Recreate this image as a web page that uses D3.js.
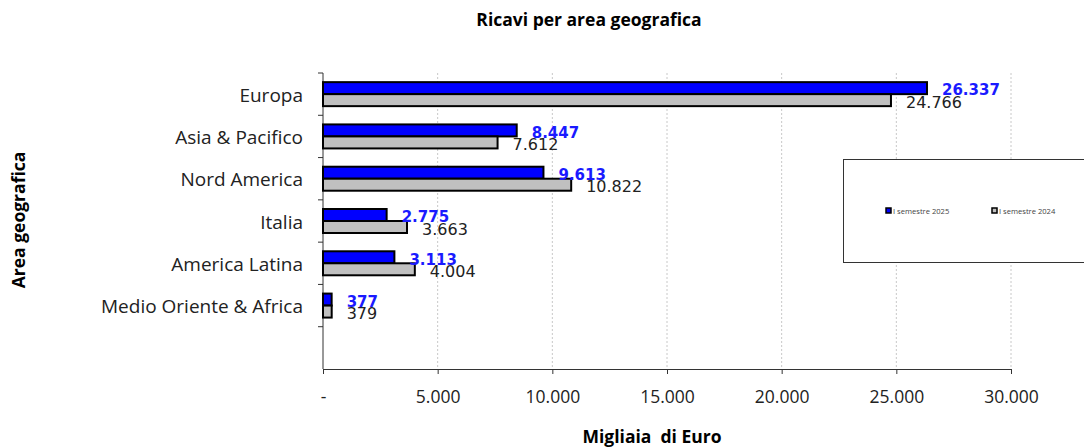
<!DOCTYPE html>
<html>
<head>
<meta charset="utf-8">
<script src="https://cdn.jsdelivr.net/npm/d3@7"></script>
<style>
  body { margin: 0; background: #fff; }
  svg { display: block; }
</style>
</head>
<body>
<div id="chart"></div>
<script>
// dati
const areas = ["Europa", "Asia & Pacifico", "Nord America", "Italia", "America Latina", "Medio Oriente & Africa", ""];
const sem2025 = [26337, 8447, 9613, 2775, 3113, 377];
const sem2024 = [24766, 7612, 10822, 3663, 4004, 379];
const xTicks = [0, 5000, 10000, 15000, 20000, 25000, 30000];
const seriesNames = ["I semestre 2025", "I semestre 2024"];

const width = 1084, height = 447;
const margin = {left: 323, right: 73, top: 73, bottom: 78};

const svg = d3.select("#chart").append("svg")
    .attr("width", width)
    .attr("height", height);

const fmt = v => v === 0 ? "-" : d3.format(",")(v).replace(/,/g, ".");

const x = d3.scaleLinear().domain([0, 30000]).range([margin.left, width - margin.right]);
const y = d3.scaleBand().domain(d3.range(areas.length)).range([margin.top, height - margin.bottom]);

// griglia
svg.append("g").selectAll("line")
    .data(xTicks.slice(1))
  .enter().append("line")
    .attr("x1", d => x(d)).attr("x2", d => x(d))
    .attr("y1", margin.top).attr("y2", height - margin.bottom)
    .attr("stroke", "#c8c8c8")
    .attr("stroke-dasharray", "2,2");

// assi
const xAxis = svg.append("g")
    .attr("transform", `translate(0,${height - margin.bottom})`)
    .call(d3.axisBottom(x).tickValues(xTicks).tickFormat(fmt).tickSizeOuter(0).tickSize(5).tickPadding(17));
xAxis.select(".domain").attr("stroke", "#333");
xAxis.selectAll(".tick line").attr("stroke", "#333");
xAxis.selectAll("text")
    .style("font-family", "'Open Sans', sans-serif")
    .style("font-size", "17.5px")
    .attr("fill", "#222");

const yAxis = svg.append("g")
    .attr("transform", `translate(${margin.left},0)`);
yAxis.append("line")
    .attr("y1", margin.top).attr("y2", height - margin.bottom)
    .attr("stroke", "#333");
yAxis.selectAll(".tk")
    .data(d3.range(areas.length))
  .enter().append("line")
    .attr("x1", -5).attr("x2", 0)
    .attr("y1", d => y(d)).attr("y2", d => y(d))
    .attr("stroke", "#333");
yAxis.selectAll(".cat")
    .data(areas)
  .enter().append("text")
    .attr("x", -20)
    .attr("y", (d, i) => y(i) + y.bandwidth() / 2 + 1)
    .attr("dy", "0.35em")
    .attr("text-anchor", "end")
    .style("font-family", "'Open Sans', sans-serif")
    .style("font-size", "19px")
    .attr("fill", "#222")
    .text(d => d);

// barre
const barH = 12;
const barTop = i => y(i) + y.bandwidth() / 2 - barH;

svg.append("g").selectAll("rect")
    .data(sem2025)
  .enter().append("rect")
    .attr("x", x(0))
    .attr("y", (d, i) => barTop(i))
    .attr("width", d => x(d) - x(0))
    .attr("height", barH)
    .attr("fill", "#0000ff")
    .attr("stroke", "#000")
    .attr("stroke-width", 2);

svg.append("g").selectAll("rect")
    .data(sem2024)
  .enter().append("rect")
    .attr("x", x(0))
    .attr("y", (d, i) => barTop(i) + barH)
    .attr("width", d => x(d) - x(0))
    .attr("height", barH)
    .attr("fill", "#c0c0c0")
    .attr("stroke", "#000")
    .attr("stroke-width", 2);

// etichette valori
svg.append("g").selectAll("text")
    .data(sem2024)
  .enter().append("text")
    .attr("x", d => x(d) + 15)
    .attr("y", (d, i) => barTop(i) + barH * 1.5 + 2)
    .attr("dy", "0.35em")
    .style("font-family", "'DejaVu Sans', sans-serif")
    .style("font-size", "16px")
    .attr("fill", "#222")
    .text(fmt);

svg.append("g").selectAll("text")
    .data(sem2025)
  .enter().append("text")
    .attr("x", d => x(d) + 15)
    .attr("y", (d, i) => barTop(i) + barH * 0.5 + 2)
    .attr("dy", "0.35em")
    .style("font-family", "'DejaVu Sans', sans-serif")
    .style("font-size", "15px")
    .style("font-weight", "bold")
    .attr("fill", "#1a1aff")
    .text(fmt);

// titoli
svg.append("text")
    .attr("x", 589).attr("y", 26)
    .attr("text-anchor", "middle")
    .style("font-family", "'Open Sans', sans-serif")
    .style("font-size", "17.5px")
    .style("font-weight", "bold")
    .text("Ricavi per area geografica");

svg.append("text")
    .attr("x", 652).attr("y", 443)
    .attr("text-anchor", "middle")
    .style("font-family", "'Open Sans', sans-serif")
    .style("font-size", "17.5px")
    .style("font-weight", "bold")
    .style("white-space", "pre")
    .text("Migliaia  di Euro");

svg.append("text")
    .attr("transform", "translate(25,220) rotate(-90)")
    .attr("text-anchor", "middle")
    .style("font-family", "'Open Sans', sans-serif")
    .style("font-size", "17.5px")
    .style("font-weight", "bold")
    .text("Area geografica");

// legenda
const legend = svg.append("g");
legend.append("rect")
    .attr("x", 843.5).attr("y", 159.5)
    .attr("width", 260).attr("height", 103)
    .attr("fill", "#fff")
    .attr("stroke", "#333");

const legX = [886, 992];
const legFill = ["#0000ff", "#c0c0c0"];
seriesNames.forEach((s, i) => {
  legend.append("rect")
      .attr("x", legX[i]).attr("y", 208)
      .attr("width", 5).attr("height", 5)
      .attr("fill", legFill[i])
      .attr("stroke", "#000")
      .attr("stroke-width", 1.5);
  legend.append("text")
      .attr("x", legX[i] + 7).attr("y", 211)
      .attr("dy", "0.35em")
      .style("font-family", "'Open Sans', sans-serif")
      .style("font-size", "7.6px")
      .attr("fill", "#444")
      .text(s);
});
</script>
</body>
</html>
